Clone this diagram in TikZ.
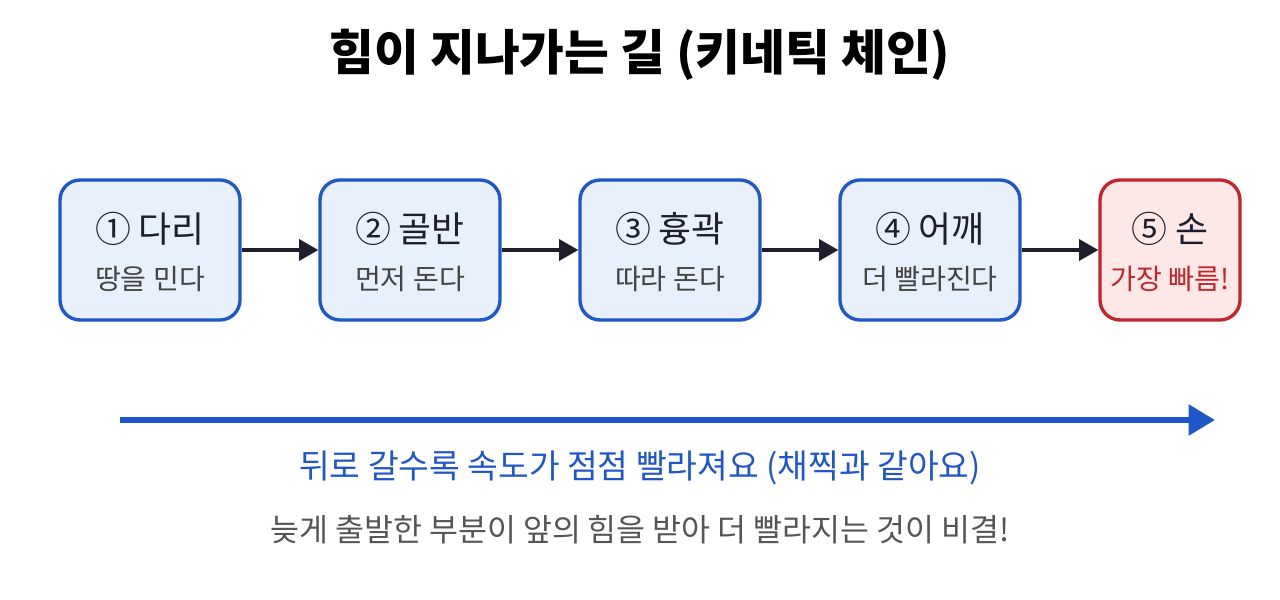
\documentclass[tikz,border=0pt]{standalone}
\usepackage{fontspec}
\setmainfont{Noto Sans CJK KR}
\usepackage{xcolor}
\usepackage{tikz}
\usetikzlibrary{positioning, arrows.meta}

\definecolor{boxblue}{HTML}{1F57C8}
\definecolor{boxfill}{HTML}{E8F0FC}
\definecolor{handred}{HTML}{C0262B}
\definecolor{handfill}{HTML}{FDE7E7}
\definecolor{inkdark}{HTML}{1E1E2C}
\definecolor{subgray}{HTML}{444444}
\definecolor{notegray}{HTML}{555555}

\begin{document}
\begin{tikzpicture}[x=0.2mm, y=0.2mm]
			\tikzstyle{every node}+=[inner sep=0pt]
			\tikzstyle{partbox}=[draw=boxblue, fill=boxfill, line width=1.9pt, rounded corners=0.4cm, minimum width=3.6cm, minimum height=2.8cm]
			\tikzstyle{handbox}=[partbox, draw=handred, fill=handfill, minimum width=2.8cm]
			\tikzstyle{partname}=[text=inkdark, font=\fontsize{20.4}{24}\selectfont]
			\tikzstyle{partnote}=[text=subgray, font=\fontsize{16}{19}\selectfont]
			\tikzstyle{link}=[draw=inkdark, line width=2pt, -{Triangle[length=11pt,width=12pt]}]
			\useasboundingbox (0,0) rectangle (1280,-600);
			\draw (640,-55) node (title) {\fontsize{27.7}{33}\selectfont\bfseries 힘이 지나가는 길 (키네틱 체인)};
			\node [partbox] (legs) at (150,-250) {};
			\draw (150,-229) node [partname] (legsname) {① 다리};
			\draw (150,-279) node [partnote] (legsnote) {땅을 민다};
			\node [partbox] (pelvis) at (410,-250) {};
			\draw (410,-229) node [partname] (pelvisname) {② 골반};
			\draw (410,-279) node [partnote] (pelvisnote) {먼저 돈다};
			\node [partbox] (chest) at (670,-250) {};
			\draw (670,-229) node [partname] (chestname) {③ 흉곽};
			\draw (670,-279) node [partnote] (chestnote) {따라 돈다};
			\node [partbox] (shoulder) at (930,-250) {};
			\draw (930,-229) node [partname] (shouldername) {④ 어깨};
			\draw (930,-279) node [partnote] (shouldernote) {더 빨라진다};
			\node [handbox] (hand) at (1170,-250) {};
			\draw (1170,-229) node [partname] (handname) {⑤ 손};
			\draw (1170,-279) node [partnote, text=handred] (handnote) {가장 빠름!};
			\draw [link] (legs) -- (pelvis);
			\draw [link] (pelvis) -- (chest);
			\draw [link] (chest) -- (shoulder);
			\draw [link] (shoulder) -- (hand);
			\coordinate (flowstart) at (120,-420);
			\coordinate (flowend) at (1215,-420);
			\draw [boxblue, line width=3.4pt, -{Triangle[length=15pt,width=17pt]}] (flowstart) -- (flowend);
			\draw (640,-468) node [text=boxblue, font=\fontsize{19}{23}\selectfont] (flowtext) {뒤로 갈수록 속도가 점점 빨라져요 (채찍과 같아요)};
			\draw (640,-530) node [text=notegray, font=\fontsize{17.9}{21}\selectfont] (secret) {늦게 출발한 부분이 앞의 힘을 받아 더 빨라지는 것이 비결!};
		\end{tikzpicture}
\end{document}
